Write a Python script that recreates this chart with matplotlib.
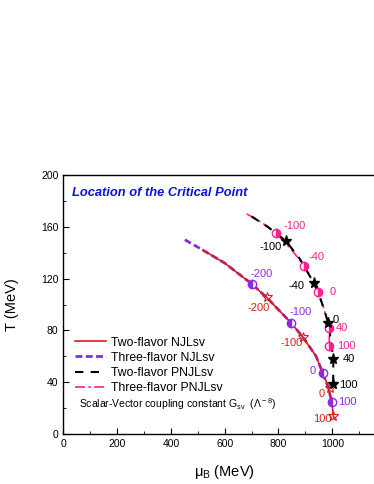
import numpy as np
import matplotlib.pyplot as plt

plt.rcParams['font.family'] = ['Liberation Sans', 'DejaVu Sans']
plt.rcParams['mathtext.fontset'] = 'custom'
plt.rcParams['mathtext.rm'] = 'Liberation Sans'
plt.rcParams['mathtext.it'] = 'Liberation Sans:italic'

# curves (mu_B, T)
njl2_mu = [519, 600, 700, 756, 846, 890, 940, 964, 985, 998, 1004, 1008]
njl2_T = [142, 132, 116, 105.5, 86, 75, 60, 47, 37, 25, 14, 12]
njl3_mu = [452, 519, 600, 700, 756, 846, 890, 940, 964, 985, 998]
njl3_T = [150, 142, 132, 116, 105.5, 86, 75, 60, 47.3, 36, 24.5]
pnjl2_mu = [700, 760, 828, 880, 932, 960, 985, 995, 1004, 1003]
pnjl2_T = [168, 160, 149, 135, 116.4, 102, 86, 72, 57.6, 38]
pnjl3_mu = [682, 740, 791, 850, 895, 948, 970, 989, 989]
pnjl3_T = [170, 163, 155, 142, 130, 110, 96, 81.6, 68]

# critical points for each G_sv
njl2_cp_mu = [756, 890, 991, 1004]
njl2_cp_T = [105.5, 75, 35.5, 14]
njl2_cp_lab = ['-200', '-100', '0', '100']
njl3_cp_mu = [700, 846, 964, 998]
njl3_cp_T = [115.6, 86, 47.3, 24.5]
njl3_cp_lab = ['-200', '-100', '0', '100']
pnjl2_cp_mu = [828, 932, 985, 1004, 1001]
pnjl2_cp_T = [149, 116.4, 86, 57.6, 39]
pnjl2_cp_lab = ['-100', '-40', '0', '40', '100']
pnjl3_cp_mu = [791, 895, 948, 988, 988]
pnjl3_cp_T = [155, 130, 110, 81.6, 68.3]
pnjl3_cp_lab = ['-100', '-40', '0', '40', '100']

red = '#d81e1e'
purple = '#8a2be2'
pink = '#ff1f8f'

fig = plt.figure(figsize=(3.74, 4.84), dpi=100)
ax = fig.add_axes([0.1693, 0.1033, 0.863, 0.5351])

ax.plot(njl3_mu, njl3_T, color=purple, lw=2.0, ls=(0, (2.5, 1.2)), label='Three-flavor NJLsv', zorder=2)
ax.plot(njl2_mu, njl2_T, color=red, lw=1.2, label='Two-flavor NJLsv', zorder=3)
ax.plot(pnjl3_mu, pnjl3_T, color=pink, lw=1.2, ls=(0, (6, 2, 1.5, 2)), label='Three-flavor PNJLsv', zorder=2)
ax.plot(pnjl2_mu, pnjl2_T, color='black', lw=1.5, ls=(0, (4, 3.5)), label='Two-flavor PNJLsv', zorder=3)

ax.plot(njl3_cp_mu, njl3_cp_T, 'o', ms=6, color=purple, fillstyle='left',
        markerfacecoloralt='white', markeredgewidth=1.0, zorder=4)
ax.plot(pnjl3_cp_mu, pnjl3_cp_T, 'o', ms=6, color=pink, fillstyle='right',
        markerfacecoloralt='white', markeredgewidth=1.0, zorder=4)
ax.plot(njl2_cp_mu, njl2_cp_T, '*', ms=7, mfc='none', mec=red, mew=0.8, zorder=5)
ax.plot(pnjl2_cp_mu, pnjl2_cp_T, '*', ms=8, color='black', zorder=5)

fs = 8
# label offsets in points
njl3_off = [(-1, 7.5), (-1, 7.5), (-9, 1.5), (4.5, 0)]
njl2_off = [(-14, -8), (-16, -4.5), (-8, -4.5), (-14.5, -2)]
pnjl2_off = [(-19, -4.5), (-18, -2), (3.5, 2), (7, 0), (5, -1)]
pnjl3_off = [(5, 5), (3.5, 6), (8.5, 0), (5, 0), (6, 0)]
for lab_list, mu, T, offs, c in [
        (njl3_cp_lab, njl3_cp_mu, njl3_cp_T, njl3_off, purple),
        (njl2_cp_lab, njl2_cp_mu, njl2_cp_T, njl2_off, red),
        (pnjl2_cp_lab, pnjl2_cp_mu, pnjl2_cp_T, pnjl2_off, 'black'),
        (pnjl3_cp_lab, pnjl3_cp_mu, pnjl3_cp_T, pnjl3_off, pink)]:
    for lab, x, y, o in zip(lab_list, mu, T, offs):
        ax.annotate(lab, (x, y), xytext=o, textcoords='offset points',
                    color=c, fontsize=fs, va='center', ha='left')

ax.text(0.028, 0.93, 'Location of the Critical Point', transform=ax.transAxes,
        color='#1010e0', fontsize=9.3, fontweight='bold', style='italic', va='center')

handles, labels = ax.get_legend_handles_labels()
order = [1, 0, 3, 2]
leg = ax.legend([handles[i] for i in order], [labels[i] for i in order],
                loc='lower left', bbox_to_anchor=(0.035, 0.155), frameon=False,
                fontsize=8.8, handlelength=2.6, handletextpad=0.4, labelspacing=0.25,
                borderaxespad=0, borderpad=0)
ax.text(0.05, 0.115, r'Scalar-Vector coupling constant G$_{\rm sv}$  ($\Lambda^{\rm -8}$)',
        transform=ax.transAxes, fontsize=7.5, va='center')

ax.set_xlim(0, 1200)
ax.set_ylim(0, 200)
ax.set_xticks(np.arange(0, 1201, 200))
ax.set_xticks(np.arange(100, 1200, 200), minor=True)
ax.set_yticks(np.arange(0, 201, 40))
ax.set_yticks(np.arange(20, 200, 40), minor=True)
ax.tick_params(direction='in', labelsize=7.5, length=4, top=False, right=False)
ax.tick_params(which='minor', direction='in', length=2.5)
ax.set_xlabel(r'μ$_{\rm B}$ (MeV)', fontsize=10.5, labelpad=10)
ax.set_ylabel('T (MeV)', fontsize=10.5, labelpad=16)
ax.spines['right'].set_visible(False)
for s in ax.spines.values():
    s.set_linewidth(1.0)

fig.savefig('out.png', dpi=100)
